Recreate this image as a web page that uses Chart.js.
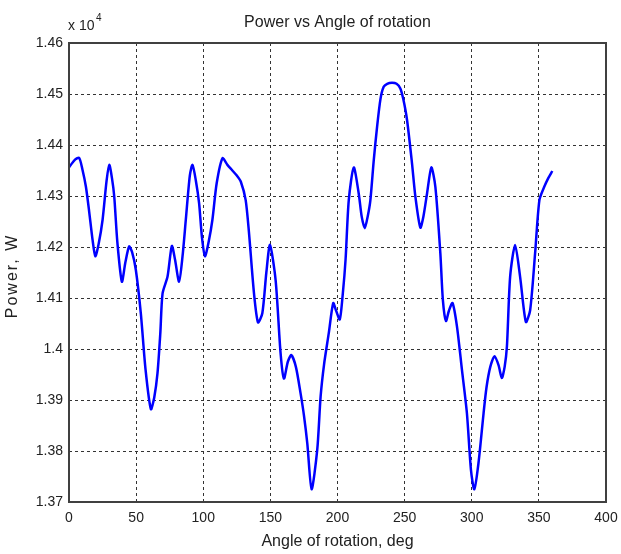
<!DOCTYPE html>
<html>
<head>
<meta charset="utf-8">
<script src="https://cdn.jsdelivr.net/npm/chart.js@4"></script>
<style>
  html, body { margin: 0; padding: 0; background: #fff; }
  #wrap { width: 621px; height: 554px; }
</style>
</head>
<body>
<div id="wrap"><canvas id="power-chart" width="621" height="554"></canvas></div>
<script>
// Angle of rotation (deg) and power (W)
const angles = [
  0, 4, 7.5, 10, 12.6, 15, 17.5, 19.6, 22, 25, 28, 30, 32, 33.7, 36, 39.4, 42, 44.8, 47, 49.8,
  53.5, 57, 61, 63.5, 65.9, 68, 69.7, 73.4, 76.6, 79, 82, 84.5, 87, 90, 92, 94.5, 96.9, 99, 101.3,
  104, 106.8, 110, 114.3, 118, 121.7, 125, 128, 131.6, 134, 137.8, 140.8, 144, 147, 149.7, 153.9,
  157.6, 160.1, 163, 165.6, 169, 172.5, 175, 177.5, 180.7, 184.9, 187.4, 190, 193.5, 196.8, 199,
  201.7, 204, 206, 208.4, 212.1, 215.8, 218, 220.3, 222.5, 224.5, 227, 229.5, 232, 234.4, 237,
  240.6, 244, 246.8, 249, 251.8, 255.5, 258, 261.7, 264, 266.7, 269.9, 272.9, 276.6, 278.5, 280.8,
  283, 285.7, 289, 292.7, 296.4, 299.4, 301.9, 305, 308.8, 311, 313.8, 317, 320, 322.4, 324.5,
  326.2, 328.6, 332.3, 336, 340.3, 343.5, 347.2, 350.4, 354, 357, 360
];
const power = [
  14356, 14370, 14375, 14352, 14318, 14270, 14215, 14182, 14205, 14253, 14330, 14361, 14335, 14299, 14210, 14132, 14170, 14201, 14190, 14155,
  14070, 13960, 13882, 13905, 13952, 14030, 14109, 14142, 14202, 14175, 14132, 14180, 14253, 14340, 14361, 14330, 14286, 14220, 14182,
  14210, 14253, 14325, 14374, 14361, 14350, 14340, 14328, 14292, 14230, 14109, 14052, 14070, 14150, 14204, 14135,
  13992, 13942, 13975, 13988, 13965, 13913, 13870, 13815, 13725, 13802, 13906, 13970, 14031, 14090, 14075,
  14058, 14110, 14175, 14292, 14356, 14305, 14260, 14237, 14260, 14292, 14370, 14436, 14490, 14514, 14520,
  14522, 14520, 14511, 14490, 14449, 14364, 14299, 14238, 14260, 14305, 14356, 14318, 14188, 14096, 14055,
  14075, 14090, 14044, 13959, 13874, 13763, 13725, 13776, 13874, 13925, 13965, 13986, 13968, 13943, 13965,
  14005, 14142, 14204, 14142, 14053, 14076, 14188, 14292, 14318, 14335, 14349
];

const xMin = 0, xMax = 400, xStep = 50;
const yMin = 13700, yMax = 14600, yStep = 100;

const FONT = "'Liberation Sans', Arial, sans-serif";

// MATLAB style box, title, y label and exponent
const matlabFrame = {
  id: 'matlabFrame',
  afterDraw(chart) {
    const { ctx, chartArea: a } = chart;
    ctx.save();
    ctx.strokeStyle = '#404040';
    ctx.lineWidth = 2;
    ctx.setLineDash([]);
    ctx.strokeRect(a.left, a.top, a.right - a.left, a.bottom - a.top);

    ctx.fillStyle = '#222';
    ctx.font = '16px ' + FONT;
    ctx.textAlign = 'center';
    ctx.textBaseline = 'middle';
    ctx.fillText('Power vs Angle of rotation', (a.left + a.right) / 2, 23);

    // rotated y label, MATLAB spaces it out a bit
    ctx.save();
    ctx.translate(13, 277);
    ctx.rotate(-Math.PI / 2);
    ctx.letterSpacing = '2px';
    ctx.fillText('Power, W', 1, 0);
    ctx.restore();

    ctx.textAlign = 'left';
    ctx.font = '14px ' + FONT;
    ctx.fillText('x 10', a.left - 1, 26);
    ctx.font = '10px ' + FONT;
    ctx.fillText('4', a.left + 27, 18);
    ctx.restore();
  }
};

const points = angles.map((a, i) => ({ x: a, y: power[i] }));

new Chart(document.getElementById('power-chart'), {
  type: 'line',
  data: {
    datasets: [{
      label: 'Power',
      data: points,
      borderColor: '#0000ff',
      borderWidth: 2.5,
      pointRadius: 0,
      tension: 0.25,
      fill: false
    }]
  },
  options: {
    responsive: false,
    animation: false,
    layout: { padding: { top: 43, right: 15, left: 0, bottom: 0 } },
    plugins: {
      legend: { display: false },
      tooltip: { enabled: false }
    },
    scales: {
      x: {
        type: 'linear',
        min: xMin,
        max: xMax,
        ticks: { stepSize: xStep, color: '#222', font: { family: FONT, size: 14 }, padding: 8, maxRotation: 0 },
        grid: { color: '#333', lineWidth: 1, drawTicks: false },
        border: { display: false, dash: [3, 3] },
        title: { display: true, text: 'Angle of rotation, deg', color: '#222', font: { family: FONT, size: 16 }, padding: { top: 2, bottom: 3 } },
        afterFit(scale) {
          scale.height = 52;
          scale.paddingRight = 0;
          scale.paddingLeft = 0;
        }
      },
      y: {
        min: yMin,
        max: yMax,
        ticks: {
          stepSize: yStep,
          color: '#222',
          font: { family: FONT, size: 14 },
          padding: 6,
          callback: v => String(Number((v / 1e4).toFixed(2)))
        },
        grid: { color: '#333', lineWidth: 1, drawTicks: false },
        border: { display: false, dash: [3, 3] },
        title: { display: false },
        afterFit(scale) { scale.width = 69; }
      }
    }
  },
  plugins: [matlabFrame]
});
</script>
</body>
</html>
